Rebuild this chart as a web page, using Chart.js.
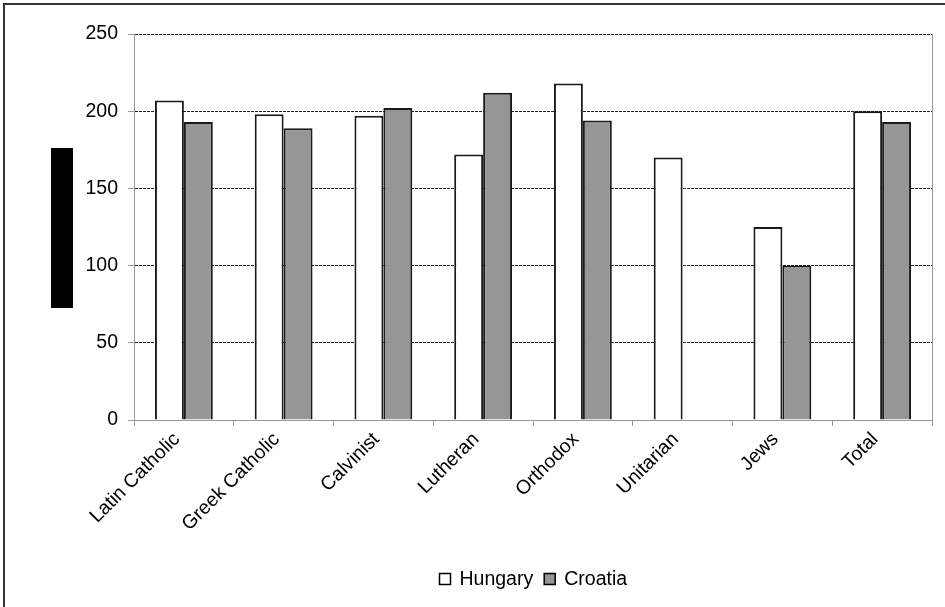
<!DOCTYPE html>
<html>
<head>
<meta charset="utf-8">
<title>Hungary and Croatia by denomination</title>
<script src="https://cdn.jsdelivr.net/npm/chart.js@4/dist/chart.umd.min.js"></script>
<style>
  html, body { margin: 0; padding: 0; background: #fff; }
  #wrap { width: 945px; height: 607px; position: relative; }
</style>
</head>
<body>
<div id="wrap"><canvas id="chart" width="945" height="607"></canvas></div>
<script>
// Denominations along the category axis
const categories = ['Latin Catholic', 'Greek Catholic', 'Calvinist', 'Lutheran', 'Orthodox', 'Unitarian', 'Jews', 'Total'];
// Values per denomination (Croatia has no Unitarian figure)
const hungary = [207, 198, 197, 172, 218, 170, 125, 200];
const croatia = [193, 189, 202, 212, 194, null, 100, 193];
// Value axis ticks
const yTicks = [0, 50, 100, 150, 200, 250];

const FONT = '"Liberation Sans", Arial, sans-serif';
const FONT_SIZE = 19.5;

// Frame around the whole figure, the boxed-out axis title, the right plot edge and the legend
const decorations = {
  id: 'decorations',
  beforeDraw(chart) {
    const ctx = chart.ctx;
    ctx.save();
    ctx.fillStyle = '#fff';
    ctx.fillRect(0, 0, chart.width, chart.height);
    ctx.restore();
  },
  afterDraw(chart) {
    const ctx = chart.ctx;
    const a = chart.chartArea;
    ctx.save();
    // outer frame
    ctx.strokeStyle = '#333';
    ctx.lineWidth = 2;
    ctx.strokeRect(4, 4, chart.width + 20, chart.height + 20);
    // blacked-out axis title block
    ctx.fillStyle = '#000';
    ctx.fillRect(51, 148, 22, 160);
    // right edge of the plot area
    ctx.strokeStyle = '#9a9a9a';
    ctx.lineWidth = 1;
    ctx.beginPath();
    ctx.moveTo(Math.round(a.right) + 0.5, a.top);
    ctx.lineTo(Math.round(a.right) + 0.5, a.bottom);
    ctx.stroke();
    // legend
    ctx.font = FONT_SIZE + 'px ' + FONT;
    ctx.textBaseline = 'middle';
    const box = 11, gapText = 9, gapItem = 11;
    const items = chart.data.datasets.map(d => ({
      label: d.label, fill: d.backgroundColor,
      w: box + gapText + ctx.measureText(d.label).width
    }));
    const total = items.reduce((s, it) => s + it.w, 0) + gapItem * (items.length - 1);
    let x = Math.round((a.left + a.right) / 2 - total / 2) + 0.5;
    const yMid = 579;
    items.forEach(it => {
      ctx.fillStyle = it.fill;
      ctx.fillRect(x, yMid - box / 2, box, box);
      ctx.strokeStyle = '#000';
      ctx.lineWidth = 1.5;
      ctx.strokeRect(x, yMid - box / 2, box, box);
      ctx.fillStyle = '#000';
      ctx.fillText(it.label, x + box + gapText, yMid + 1);
      x += it.w + gapItem;
    });
    ctx.restore();
  }
};

new Chart(document.getElementById('chart'), {
  type: 'bar',
  data: {
    labels: categories,
    datasets: [
      { label: 'Hungary', data: hungary, backgroundColor: '#ffffff', borderColor: '#1a1a1a', borderWidth: 2 },
      { label: 'Croatia', data: croatia, backgroundColor: '#969696', borderColor: '#1a1a1a', borderWidth: 2 }
    ]
  },
  options: {
    responsive: false,
    devicePixelRatio: 1,
    animation: false,
    layout: { padding: { top: 34, right: 13, bottom: 0, left: 0 } },
    datasets: { bar: { categoryPercentage: 0.58, barPercentage: 1.0 } },
    plugins: { legend: { display: false }, tooltip: { enabled: false } },
    scales: {
      x: {
        offset: true,
        afterFit(scale) { scale.height = 187; },
        grid: {
          offset: true,
          drawOnChartArea: false,
          drawTicks: true,
          tickLength: 6,
          color: '#9a9a9a',
          tickColor: '#9a9a9a'
        },
        border: { display: true, color: '#9a9a9a', width: 1 },
        ticks: {
          autoSkip: false,
          minRotation: 45,
          maxRotation: 45,
          padding: 2,
          labelOffset: -7,
          color: '#000',
          font: { family: FONT, size: FONT_SIZE }
        }
      },
      y: {
        min: 0,
        max: 250,
        afterFit(scale) { scale.width = 134; },
        afterBuildTicks(scale) { scale.ticks = yTicks.map(v => ({ value: v })); },
        grid: {
          color: ctx => (ctx.tick && ctx.tick.value === 0 ? 'rgba(0,0,0,0)' : '#222'),
          lineWidth: 1,
          tickLength: 6,
          tickColor: '#9a9a9a',
          tickBorderDash: []
        },
        border: { display: true, color: '#9a9a9a', width: 1, dash: [3, 1] },
        ticks: {
          padding: 10,
          color: '#000',
          font: { family: FONT, size: FONT_SIZE }
        }
      }
    }
  },
  plugins: [decorations]
});
</script>
</body>
</html>
